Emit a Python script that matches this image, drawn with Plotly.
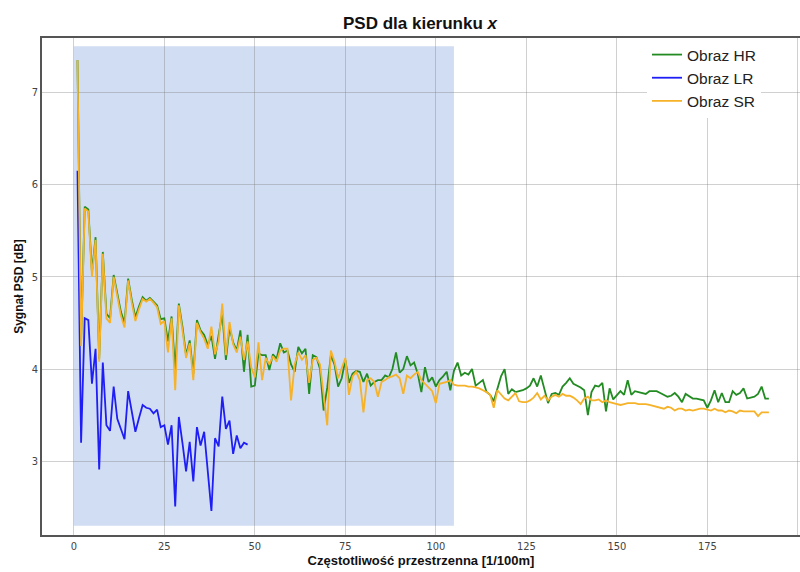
import plotly.graph_objects as go

# Spatial frequency indices [1/100m]
freq_hr = list(range(1, 193))
freq_lr = list(range(1, 49))

psd_hr = [
    7.35, 4.30, 5.76, 5.73, 5.05, 5.43, 4.11, 5.27, 4.60, 4.55,
    5.02, 4.80, 4.62, 4.50, 4.98, 4.75, 4.56, 4.68, 4.78, 4.74,
    4.77, 4.73, 4.69, 4.54, 4.55, 4.30, 4.57, 3.99, 4.71, 4.46,
    4.15, 4.31, 3.95, 4.53, 4.42, 4.37, 4.26, 4.36, 4.11, 4.37,
    4.60, 4.10, 4.45, 4.29, 4.20, 4.42, 3.97, 4.37, 3.81, 3.82,
    4.17, 4.15, 4.15, 3.99, 4.16, 4.11, 4.28, 4.18, 4.20, 4.05,
    3.97, 4.24, 4.17, 4.22, 3.73, 4.15, 4.13, 4.00, 3.55, 3.80,
    4.15, 4.05, 3.81, 3.90, 4.10, 3.85, 3.95, 3.98, 3.97, 3.86,
    3.95, 3.82, 3.86, 3.88, 3.88, 3.93, 3.91, 4.00, 4.18, 3.96,
    4.00, 4.14, 4.04, 4.07, 3.95, 3.75, 4.02, 3.86, 3.91, 3.81,
    3.88, 3.92, 3.97, 3.77, 3.98, 4.07, 3.93, 3.96, 3.94, 4.00,
    3.82, 3.85, 3.88, 3.75, 3.72, 3.65, 3.80, 3.92, 4.00, 3.73,
    3.78, 3.75, 3.76, 3.77, 3.79, 3.82, 3.90, 3.81, 3.93, 3.78,
    3.63, 3.73, 3.74, 3.72, 3.81, 3.85, 3.90, 3.84, 3.82, 3.80,
    3.77, 3.50, 3.75, 3.82, 3.81, 3.85, 3.54, 3.79, 3.67, 3.72,
    3.76, 3.72, 3.88, 3.72, 3.76, 3.75, 3.74, 3.73, 3.76, 3.76,
    3.76, 3.74, 3.72, 3.70, 3.71, 3.74, 3.70, 3.64, 3.73, 3.70,
    3.68, 3.68, 3.67, 3.66, 3.58, 3.66, 3.77, 3.64, 3.74, 3.64,
    3.64, 3.76, 3.72, 3.74, 3.79, 3.68, 3.69, 3.70, 3.73, 3.81,
    3.68, 3.68,
]

psd_lr = [
    6.15, 3.20, 4.55, 4.53, 3.84, 4.22, 2.91, 4.07, 3.39, 3.33,
    3.81, 3.46, 3.35, 3.24, 3.76, 3.54, 3.32, 3.47, 3.61, 3.58,
    3.57, 3.52, 3.56, 3.37, 3.39, 3.18, 3.39, 2.51, 3.48, 3.20,
    2.89, 3.21, 2.78, 3.37, 3.17, 3.32, 2.90, 2.46, 3.25, 3.16,
    3.70, 3.35, 3.44, 3.08, 3.28, 3.14, 3.20, 3.18,
]

psd_sr = [
    7.35, 4.25, 5.74, 5.71, 5.00, 5.40, 4.08, 5.25, 4.55, 4.50,
    5.00, 4.78, 4.58, 4.45, 4.96, 4.72, 4.52, 4.65, 4.76, 4.73,
    4.76, 4.72, 4.67, 4.49, 4.52, 4.18, 4.55, 3.77, 4.69, 4.42,
    4.12, 4.28, 3.88, 4.50, 4.40, 4.33, 4.22, 4.46, 4.16, 4.30,
    4.71, 4.15, 4.51, 4.27, 4.18, 4.35, 4.10, 4.30, 4.02, 3.91,
    4.29, 3.88, 4.12, 4.05, 4.14, 4.08, 4.20, 4.22, 4.22, 3.66,
    4.05, 4.18, 4.10, 4.15, 3.85, 4.10, 4.12, 4.05, 3.75, 3.39,
    4.20, 4.08, 3.90, 4.00, 4.12, 3.72, 3.92, 3.97, 3.88, 3.53,
    3.88, 3.90, 3.86, 3.70, 3.86, 3.88, 3.91, 3.92, 3.94, 3.90,
    3.73, 3.93, 3.90, 3.94, 3.97, 3.88, 3.84, 3.80, 3.76, 3.63,
    3.84, 3.85, 3.86, 3.88, 3.83, 3.82, 3.82, 3.82, 3.81, 3.81,
    3.80, 3.79, 3.77, 3.75, 3.72, 3.58, 3.77, 3.72, 3.68, 3.66,
    3.70, 3.74, 3.65, 3.64, 3.64, 3.66, 3.69, 3.74, 3.67, 3.71,
    3.66, 3.70, 3.72, 3.70, 3.73, 3.71, 3.71, 3.69, 3.66, 3.62,
    3.68, 3.70, 3.66, 3.66, 3.67, 3.64, 3.66, 3.64, 3.63, 3.62,
    3.61, 3.62, 3.63, 3.63, 3.63, 3.62, 3.62, 3.62, 3.61, 3.60,
    3.59, 3.58, 3.57, 3.59, 3.58, 3.55, 3.57, 3.57, 3.55, 3.56,
    3.55, 3.56, 3.57, 3.57, 3.56, 3.55, 3.57, 3.55, 3.55, 3.53,
    3.55, 3.54, 3.52, 3.55, 3.54, 3.54, 3.54, 3.54, 3.49, 3.53,
    3.53, 3.53,
]

x_ticks = [0, 25, 50, 75, 100, 125, 150, 175, 200]
y_ticks = [3, 4, 5, 6, 7]
shade_x = [0, 105]
shade_y = [2.3, 7.5]

fig = go.Figure()
fig.add_trace(go.Scatter(x=freq_hr, y=psd_hr, mode="lines", name="Obraz HR",
                         line=dict(color="rgb(34,139,34)", width=1.8)))
fig.add_trace(go.Scatter(x=freq_lr, y=psd_lr, mode="lines", name="Obraz LR",
                         line=dict(color="rgb(30,30,245)", width=1.8)))
fig.add_trace(go.Scatter(x=freq_hr, y=psd_sr, mode="lines", name="Obraz SR",
                         line=dict(color="rgb(246,178,40)", width=1.8)))

fig.add_shape(type="rect", xref="x", yref="y",
              x0=shade_x[0], x1=shade_x[1], y0=shade_y[0], y1=shade_y[1],
              fillcolor="rgba(176,196,235,0.58)", line=dict(width=0), layer="below")

tick_font = dict(family="DejaVu Sans Condensed, Liberation Sans Narrow, Liberation Sans, sans-serif",
                 size=11, color="#444")

fig.update_layout(
    width=800, height=572,
    margin=dict(l=42, r=0, t=38, b=37),
    paper_bgcolor="white", plot_bgcolor="white",
    title=dict(text="<b>PSD dla kierunku <i>x</i></b>", x=0.525, xanchor="center",
               y=1 - 23 / 572, yanchor="middle", yref="container",
               font=dict(family="Liberation Sans, Arial, sans-serif", size=17, color="#111")),
    showlegend=True,
    legend=dict(x=(647 - 42) / 758, xanchor="left", y=1.0, yanchor="top",
                bgcolor="white", bordercolor="rgba(0,0,0,0)", borderwidth=0,
                font=dict(family="Liberation Sans, Arial, sans-serif", size=15.5, color="#222"),
                tracegroupgap=0, itemwidth=30),
    xaxis=dict(range=[-8.8, 200.6], tickvals=x_ticks, ticktext=[str(v) for v in x_ticks],
               showgrid=True, gridcolor="rgba(120,120,120,0.35)", gridwidth=1,
               zeroline=False, showline=True, linecolor="#555", linewidth=1.5, mirror=True,
               ticks="", tickfont=tick_font,
               title=dict(text="<b>Częstotliwość przestrzenna [1/100m]</b>", standoff=4,
                          font=dict(family="Liberation Sans, Arial, sans-serif", size=13, color="#111"))),
    yaxis=dict(range=[2.2, 7.59], tickvals=y_ticks, ticktext=[str(v) for v in y_ticks],
               showgrid=True, gridcolor="rgba(120,120,120,0.35)", gridwidth=1,
               zeroline=False, showline=True, linecolor="#555", linewidth=1.5, mirror=True,
               ticks="", tickfont=tick_font, automargin=False,
               title=dict(text="<b>Sygnał PSD [dB]</b>", standoff=6,
                          font=dict(family="Liberation Sans, Arial, sans-serif", size=12, color="#111"))),
)

fig.write_html("out.html")
